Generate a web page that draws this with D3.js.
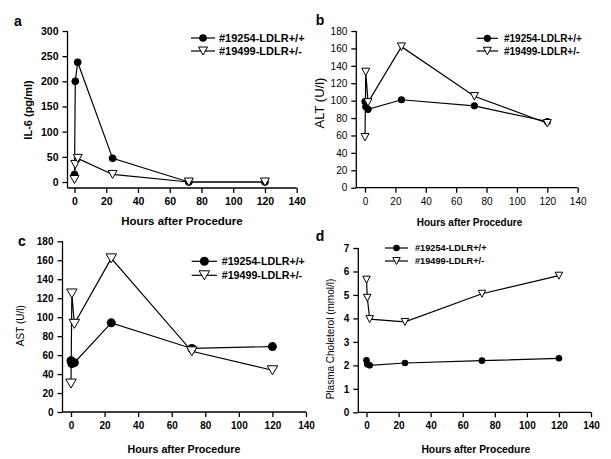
<!DOCTYPE html>
<html><head><meta charset="utf-8">
<script src="https://cdn.jsdelivr.net/npm/d3@7"></script>
<style>body{margin:0;background:#fff}svg{display:block}text{font-family:"Liberation Sans",Arial,sans-serif;fill:#000}</style>
</head><body><svg id="c" width="611" height="459"></svg>
<script>
// ---- data ----
const hours = [0, 0.5, 2, 24, 72, 120];
const seriesNames = ["#19254-LDLR+/+", "#19499-LDLR+/-"];
const il6WT  = [15, 200, 238, 47, 0, 0];
const il6Het = [5, 35, 47, 15, 0, 0];
const altWT  = [99, 93, 90, 101, 94, 76];
const altHet = [58, 133, 98, 162, 105, 74];
const astWT  = [54, 51, 52, 94, 67, 69];
const astHet = [30, 125, 93, 162, 64, 44];
const cholWT  = [2.22, 2.05, 2.0, 2.1, 2.2, 2.3];
const cholHet = [5.65, 4.88, 3.97, 3.85, 5.05, 5.82];
const xTicks = [0, 20, 40, 60, 80, 100, 120, 140];
const il6Ticks = [0, 50, 100, 150, 200, 250, 300];
const altTicks = [0, 20, 40, 60, 80, 100, 120, 140, 160, 180];
const astTicks = [0, 20, 40, 60, 80, 100, 120, 140, 160, 180];
const cholTicks = [0, 1, 2, 3, 4, 5, 6, 7];
const panelLetters = ["a", "b", "c", "d"];
const yTitles = ["IL-6 (pg/ml)", "ALT (U/l)", "AST (U/l)", "Plasma Choleterol (mmol/l)"];
const xTitle = "Hours after Procedure";

const svg = d3.select("#c");

const panels = [
  {letter:panelLetters[0], wt:il6WT, het:il6Het, yTicks:il6Ticks, yMax:300,
   yAxisX:67.5, x0:74.5, x1:296.7, y0:182, yTop:31, axisY:188,
   tickFont:"bold 10.5px", xtFont:"bold 11.5px", xtPos:[182,221],
   ytFont:"bold 11px", ytPos:[28,110], letterPos:[18,21],
   leg:{x1:191,x2:215,tx:219,rows:[38,51],font:"bold 11px"}, r:3.8, tri:[9,8]},
  {letter:panelLetters[1], wt:altWT, het:altHet, yTicks:altTicks, yMax:180,
   yAxisX:356.3, x0:365, x1:577.7, y0:187.7, yTop:31, axisY:187.7,
   tickFont:"10px", xtFont:"bold 10px", xtPos:[469.5,222],
   ytFont:"13px", ytPos:[319,103], letterPos:[320,20],
   leg:{x1:476.7,x2:498,tx:504,rows:[38.3,51],font:"bold 10px"}, r:3.6, tri:[8,7.5]},
  {letter:panelLetters[2], wt:astWT, het:astHet, yTicks:astTicks, yMax:180,
   yAxisX:62.5, x0:71, x1:306, y0:412, yTop:241.3, axisY:412,
   tickFont:"bold 10px", xtFont:"bold 10.7px", xtPos:[184,449],
   ytFont:"10px", ytPos:[20,325.7], letterPos:[22,241],
   leg:{x1:191.7,x2:217,tx:221.7,rows:[261.3,275.3],font:"bold 10.7px"}, r:4.5, tri:[10.5,9]},
  {letter:panelLetters[3], wt:cholWT, het:cholHet, yTicks:cholTicks, yMax:7,
   yAxisX:358.3, x0:366.5, x1:591, y0:412.3, yTop:248, axisY:412.3,
   tickFont:"bold 10px", xtFont:"bold 10.3px", xtPos:[475.8,449],
   ytFont:"10px", ytPos:[330,339], letterPos:[320,236],
   leg:{x1:385,x2:408,tx:415,rows:[248,261],font:"bold 9.2px"}, r:3.3, tri:[7.5,7]}
];

function triPath(w, h) {
  return `M${-w/2},${-h/2}L${w/2},${-h/2}L0,${h/2}Z`;
}

panels.forEach((p, pi) => {
  const g = svg.append("g");
  const x = d3.scaleLinear().domain([0, 140]).range([p.x0, p.x1]);
  const y = d3.scaleLinear().domain([0, p.yMax]).range([p.y0, p.yTop]);

  const xa = g.append("g").attr("transform", `translate(0,${p.axisY})`)
    .call(d3.axisBottom(x).tickValues(xTicks).tickSize(5).tickPadding(5).tickFormat(d3.format("d")));
  const ya = g.append("g").attr("transform", `translate(${p.yAxisX},0)`)
    .call(d3.axisLeft(y).tickValues(p.yTicks).tickSize(5).tickPadding(4).tickFormat(d3.format("d")));
  [xa, ya].forEach(a => {
    a.select(".domain").remove();
    a.selectAll("line").attr("stroke", "#000").attr("stroke-width", 1.3);
    a.selectAll("text").style("font", p.tickFont + ' "Liberation Sans",Arial,sans-serif').attr("fill", "#000");
  });
  g.append("line").attr("x1", p.yAxisX).attr("x2", p.yAxisX).attr("y1", p.yTop).attr("y2", p.axisY)
    .attr("stroke", "#000").attr("stroke-width", 1.3);
  g.append("line").attr("x1", p.yAxisX).attr("x2", p.x1).attr("y1", p.axisY).attr("y2", p.axisY)
    .attr("stroke", "#000").attr("stroke-width", 1.3);

  g.append("text").attr("x", p.xtPos[0]).attr("y", p.xtPos[1]).attr("text-anchor", "middle")
    .attr("dominant-baseline", "central")
    .style("font", p.xtFont + ' "Liberation Sans",Arial,sans-serif').text(xTitle);
  g.append("text").attr("transform", `translate(${p.ytPos[0]},${p.ytPos[1]}) rotate(-90)`)
    .attr("text-anchor", "middle").attr("dominant-baseline", "central")
    .style("font", p.ytFont + ' "Liberation Sans",Arial,sans-serif').text(yTitles[pi]);
  g.append("text").attr("x", p.letterPos[0]).attr("y", p.letterPos[1]).attr("text-anchor", "middle")
    .attr("dominant-baseline", "central")
    .style("font", 'bold 14px "Liberation Sans",Arial,sans-serif').text(p.letter);

  const line = d3.line().x((d, i) => x(hours[i])).y(d => y(d));
  g.append("path").datum(p.wt).attr("d", line).attr("fill", "none").attr("stroke", "#000").attr("stroke-width", 1.2);
  g.append("path").datum(p.het).attr("d", line).attr("fill", "none").attr("stroke", "#000").attr("stroke-width", 1.2);
  g.selectAll(".wt").data(p.wt).enter().append("circle")
    .attr("cx", (d, i) => x(hours[i])).attr("cy", d => y(d)).attr("r", p.r).attr("fill", "#000");
  g.selectAll(".het").data(p.het).enter().append("path")
    .attr("transform", (d, i) => `translate(${x(hours[i])},${y(d)})`)
    .attr("d", triPath(p.tri[0], p.tri[1])).attr("fill", "#fff").attr("stroke", "#000").attr("stroke-width", 1);

  const L = p.leg, mx = (L.x1 + L.x2) / 2;
  seriesNames.forEach((name, i) => {
    const ry = L.rows[i];
    g.append("line").attr("x1", L.x1).attr("x2", L.x2).attr("y1", ry).attr("y2", ry).attr("stroke", "#000").attr("stroke-width", 1.2);
    if (i === 0) g.append("circle").attr("cx", mx).attr("cy", ry).attr("r", p.r).attr("fill", "#000");
    else g.append("path").attr("transform", `translate(${mx},${ry})`).attr("d", triPath(p.tri[0], p.tri[1]))
      .attr("fill", "#fff").attr("stroke", "#000").attr("stroke-width", 1);
    g.append("text").attr("x", L.tx).attr("y", ry).attr("dominant-baseline", "central")
      .style("font", L.font + ' "Liberation Sans",Arial,sans-serif').text(name);
  });
});
</script></body></html>
